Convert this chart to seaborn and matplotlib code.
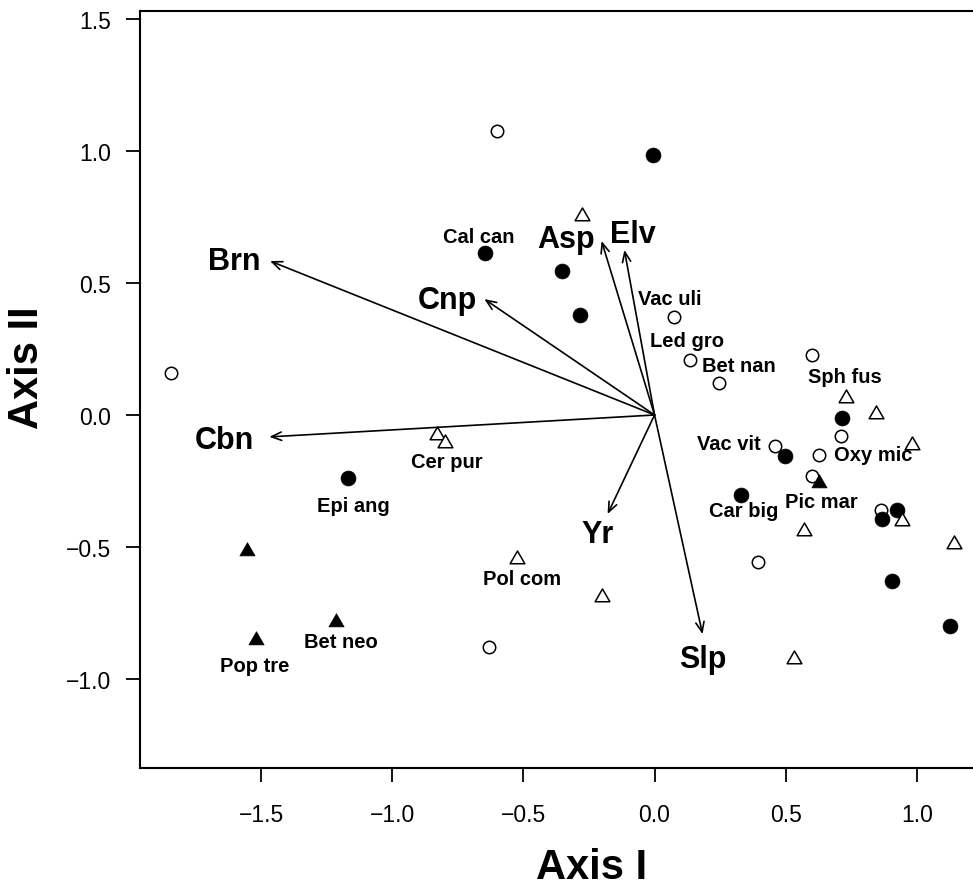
"""Ordination biplot: sites, species labels and environmental vectors."""

import matplotlib
matplotlib.use('Agg')
import matplotlib.pyplot as plt
from matplotlib.path import Path
from matplotlib.ticker import FuncFormatter
import seaborn as sns

# site scores, split by symbol
open_circle_x = [-0.60, -1.843, 0.076, 0.137, 0.245, 0.60, 0.71, 0.458, 0.626, 0.60, 0.862, 0.393, -0.63]
open_circle_y = [1.076, 0.159, 0.371, 0.208, 0.121, 0.227, -0.08, -0.117, -0.152, -0.23, -0.36, -0.557, -0.879]

filled_circle_x = [-0.004, -0.645, -0.351, -0.286, -1.168, 0.714, 0.496, 0.328, 0.866, 0.924, 0.905, 1.126]
filled_circle_y = [0.985, 0.614, 0.545, 0.379, -0.239, -0.011, -0.155, -0.303, -0.394, -0.36, -0.629, -0.80]

open_tri_x = [-0.275, -0.828, -0.80, -0.523, -0.202, 0.53, 0.729, 0.843, 0.98, 0.943, 0.569, 1.141]
open_tri_y = [0.754, -0.076, -0.106, -0.545, -0.69, -0.924, 0.064, 0.004, -0.114, -0.40, -0.44, -0.489]

filled_tri_x = [-1.553, -1.519, -1.214, 0.626]
filled_tri_y = [-0.515, -0.852, -0.784, -0.258]

# environmental vectors (tips) and where their names sit
env_names = ["Brn", "Cnp", "Asp", "Elv", "Cbn", "Yr", "Slp"]
env_x = [-1.466, -0.649, -0.202, -0.115, -1.469, -0.179, 0.183]
env_y = [0.583, 0.439, 0.659, 0.625, -0.083, -0.375, -0.83]
env_label_x = [-1.601, -0.79, -0.336, -0.084, -1.642, -0.218, 0.183]
env_label_y = [0.553, 0.405, 0.636, 0.655, -0.125, -0.481, -0.955]

# species names
species = ["Cal can", "Vac uli", "Led gro", "Bet nan", "Sph fus", "Vac vit", "Oxy mic",
           "Pic mar", "Car big", "Cer pur", "Epi ang", "Pol com", "Bet neo", "Pop tre"]
species_x = [-0.670, 0.057, 0.122, 0.321, 0.725, 0.282, 0.832,
             0.637, 0.338, -0.794, -1.149, -0.504, -1.195, -1.525]
species_y = [0.655, 0.420, 0.261, 0.167, 0.125, -0.129, -0.170,
             -0.348, -0.383, -0.197, -0.364, -0.64, -0.879, -0.970]

sns.set_style("ticks")
plt.rcParams["font.family"] = ["Liberation Sans", "DejaVu Sans"]
plt.rcParams["text.color"] = "black"
plt.rcParams["axes.labelcolor"] = "black"

W, H = 973, 887
fig = plt.figure(figsize=(W / 100, H / 100), dpi=100)
# plot region runs past the right edge of the image, as in the original
ax = fig.add_axes([140 / W, (H - 769) / H, (1044 - 140) / W, (769 - 12) / H])

# equilateral triangle like R's pch 2 / 17
tri = Path([(-1, -0.577), (1, -0.577), (0, 1.155), (-1, -0.577)], closed=True)

sns.scatterplot(x=open_circle_x, y=open_circle_y, marker="o", s=80,
                facecolor="white", edgecolor="black", linewidth=1.1, ax=ax, zorder=3)
sns.scatterplot(x=filled_circle_x, y=filled_circle_y, marker="o", s=115,
                color="black", edgecolor="black", linewidth=0.5, ax=ax, zorder=3)
sns.scatterplot(x=open_tri_x, y=open_tri_y, marker=tri, s=150,
                facecolor="white", edgecolor="black", linewidth=1.1, ax=ax, zorder=3)
sns.scatterplot(x=filled_tri_x, y=filled_tri_y, marker=tri, s=160,
                color="black", edgecolor="black", linewidth=0.5, ax=ax, zorder=3)

for name, x, y, lx, ly in zip(env_names, env_x, env_y, env_label_x, env_label_y):
    ax.annotate("", xy=(x, y), xytext=(0, 0),
                arrowprops=dict(arrowstyle="->,head_length=0.6,head_width=0.25",
                                lw=1.2, color="black", shrinkA=0, shrinkB=0,
                                mutation_scale=12))
    ax.text(lx, ly, name, fontsize=22, fontweight="bold", ha="center", va="baseline")

for name, x, y in zip(species, species_x, species_y):
    ax.text(x, y, name, fontsize=14.5, fontweight="bold", ha="center", va="baseline")

fmt = FuncFormatter(lambda v, pos: f"{v:.1f}".replace("-", "\u2212"))

ax.set_xlim(-1.962, 1.485)
ax.set_ylim(-1.337, 1.530)
ax.set_xticks([-1.5, -1.0, -0.5, 0.0, 0.5, 1.0])
ax.set_yticks([-1.0, -0.5, 0.0, 0.5, 1.0, 1.5])
ax.xaxis.set_major_formatter(fmt)
ax.yaxis.set_major_formatter(fmt)
ax.tick_params(direction="out", length=10, width=1.3, labelsize=16.5,
               colors="black")
ax.tick_params(axis="x", pad=15)
ax.tick_params(axis="y", pad=11)
for sp in ax.spines.values():
    sp.set_linewidth(1.5)
    sp.set_color("black")

fig.text(592 / W, 1 - 879 / H, "Axis I", fontsize=30, fontweight="bold",
         ha="center", va="baseline")
fig.text(27 / W, 1 - 368 / H, "Axis II", fontsize=30, fontweight="bold",
         ha="center", va="center", rotation=90)

fig.savefig("out.png", dpi=100)
